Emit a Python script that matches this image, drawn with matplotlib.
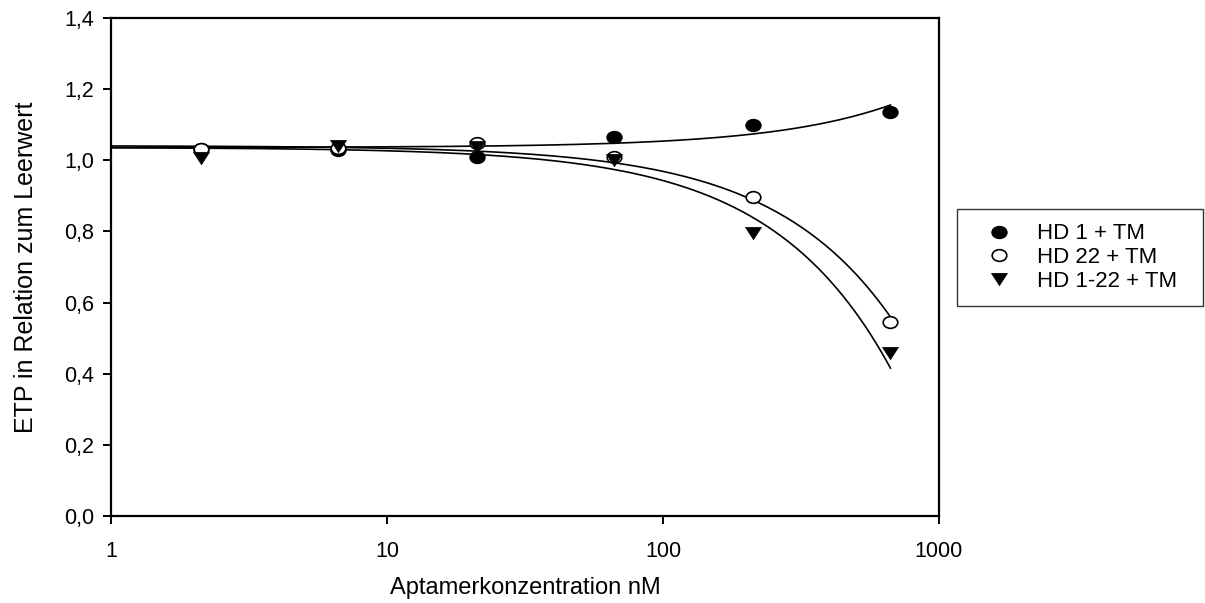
import numpy as np
import matplotlib
matplotlib.use("Agg")
import matplotlib.pyplot as plt
from matplotlib.ticker import FixedLocator, FuncFormatter, NullLocator
from matplotlib.path import Path
from matplotlib.transforms import Affine2D

plt.rcParams['font.family'] = ['Liberation Sans', 'DejaVu Sans']

# Data (ETP relative to blank vs aptamer concentration in nM)
conc = [2.11, 6.67, 21.1, 66.7, 211, 667]
hd1 = [1.032, 1.028, 1.009, 1.066, 1.099, 1.136]
hd22 = [1.032, 1.035, 1.05, 1.01, 0.897, 0.545]
hd1_22 = [1.006, 1.04, 1.038, 1.0, 0.796, 0.458]
labels = ["HD 1 + TM", "HD 22 + TM", "HD 1-22 + TM"]
# linear regression lines (intercept, slope per nM) as shown in the chart
fit_intercept = [1.036, 1.041, 1.036]
fit_slope = [0.000179, -0.000722, -0.000930]
x_ticks = [1, 10, 100, 1000]
y_ticks = [0.0, 0.2, 0.4, 0.6, 0.8, 1.0, 1.2, 1.4]

fig = plt.figure(figsize=(12.05, 6.03), dpi=100)
ax = fig.add_axes([111/1205, 1 - 516/603, 828/1205, 498/603])

# slightly wide markers, as in the reference picture
wide = Affine2D().scale(1.25, 1.0)
ellipse = Path(wide.transform(Path.unit_circle().vertices), Path.unit_circle().codes)
tri_down = Path([(-1.3, 1.0), (1.3, 1.0), (0.0, -1.0), (-1.3, 1.0)],
                [Path.MOVETO, Path.LINETO, Path.LINETO, Path.CLOSEPOLY])

styles = [
    dict(marker=ellipse, mfc='black', mec='black', ms=11, mew=0.8),
    dict(marker=ellipse, mfc='white', mec='black', ms=10.5, mew=1.2),
    dict(marker=tri_down, mfc='black', mec='black', ms=11.5, mew=0.5),
]

x = np.array(conc, dtype=float)
xfit = np.geomspace(1, x.max(), 300)
handles = []
for series, a, b, st, lab in zip([hd1, hd22, hd1_22], fit_intercept, fit_slope, styles, labels):
    ax.plot(xfit, a + b * xfit, color='black', lw=1.2, zorder=2)
    h, = ax.plot(x, series, linestyle='none', label=lab, zorder=3, **st)
    handles.append(h)

ax.set_xscale('log')
ax.set_xlim(1, 1000)
ax.set_ylim(0, 1.4)
ax.xaxis.set_major_locator(FixedLocator(x_ticks))
ax.xaxis.set_minor_locator(NullLocator())
ax.xaxis.set_major_formatter(FuncFormatter(lambda v, p: f"{v:g}"))
ax.yaxis.set_major_locator(FixedLocator(y_ticks))
ax.yaxis.set_major_formatter(FuncFormatter(lambda v, p: f"{v:.1f}".replace('.', ',')))

for s in ax.spines.values():
    s.set_linewidth(1.6)
ax.tick_params(direction='out', length=6, width=1.4, labelsize=15.5)
ax.tick_params(axis='y', pad=6)
ax.tick_params(axis='x', pad=12)

ax.set_xlabel("Aptamerkonzentration nM", fontsize=17, labelpad=11)
ax.set_ylabel("ETP in Relation zum Leerwert", fontsize=18, labelpad=19)

leg = fig.legend(handles=handles, loc='upper left',
                 bbox_to_anchor=(957/1205, 1 - 303/603, (1203 - 957)/1205, 94/603),
                 mode='expand', borderaxespad=0, frameon=True, fancybox=False,
                 edgecolor='black', fontsize=16, handletextpad=0.45, borderpad=0.65,
                 labelspacing=0.12, handlelength=2.5)
leg.get_frame().set_linewidth(1.0)

fig.savefig("out.png", dpi=100)
